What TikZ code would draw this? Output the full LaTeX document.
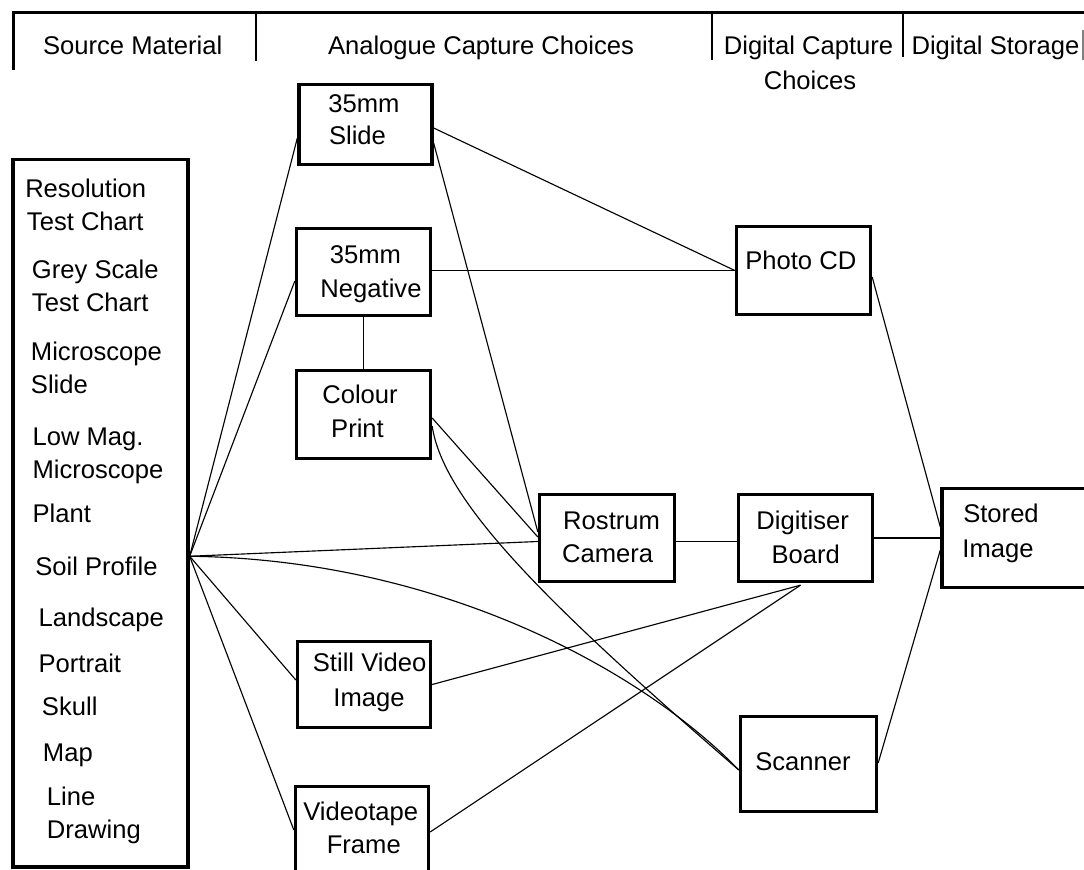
\documentclass[tikz,border=0pt]{standalone}
\usepackage{fontspec}
\setmainfont{Liberation Sans}
\usetikzlibrary{calc}
\begin{document}
\begin{tikzpicture}[x=0.75pt,y=-0.75pt,
  box/.style={draw, line width=2.5pt, rectangle, inner sep=0pt},
  lbl/.style={anchor=base, inner sep=0pt, font=\fontsize{19.2}{23}\selectfont},
  conn/.style={line width=0.85pt},
  rule/.style={line width=2pt}]
\useasboundingbox (0,0) rectangle (1084,870);
\clip (0,0) rectangle (1084,870);
\fill[white] (0,0) rectangle (1084,870);

% header rule and ticks
\draw[rule] (12,12.5) -- (1090,12.5);
\draw[rule] (13.3,11.5) -- (13.3,70);
\draw[rule] (256,11.5) -- (256,61);
\draw[rule] (712,11.5) -- (712,60);
\draw[rule] (903,11.5) -- (903,57);
\draw[line width=0.8pt, gray] (1083,30) -- (1083,60);

\node[lbl] (h1) at (132.7,55) {Source Material};
\node[lbl] (h2) at (481,55) {Analogue Capture Choices};
\node[lbl] (h3) at (808.5,55) {Digital Capture};
\node[lbl] (h3b) at (810,90) {Choices};
\node[lbl] (h4) at (995.5,55) {Digital Storage};

% boxes
\node[box, minimum width=131.25pt, minimum height=530.6pt] (src) at (100.5,513.25) {};
\node[box, minimum width=99.75pt, minimum height=60pt] (slide) at (365.5,124.5) {};
\node[box, minimum width=100.5pt, minimum height=65.25pt] (neg) at (363.5,272) {};
\node[box, minimum width=100.5pt, minimum height=66pt] (print) at (363.5,414.5) {};
\node[box, minimum width=99.75pt, minimum height=64.5pt] (still) at (364,684.5) {};
\node[box, minimum width=99.75pt, minimum height=72.75pt] (video) at (362,835) {};
\node[box, minimum width=101.25pt, minimum height=65.25pt] (rostrum) at (607,538) {};
\node[box, minimum width=100.5pt, minimum height=66pt] (photocd) at (803.5,270.5) {};
\node[box, minimum width=100.5pt, minimum height=65.25pt] (digit) at (805.5,538) {};
\node[box, minimum width=102pt, minimum height=71.25pt] (scanner) at (808.5,764) {};
\node[box, minimum width=117pt, minimum height=74.25pt] (stored) at (1020,538) {};

% source list
\node[lbl, anchor=base west] (s1) at (25,197) {Resolution};
\node[lbl, anchor=base west] (s2) at (26.7,230) {Test Chart};
\node[lbl, anchor=base west] (s3) at (31.7,278.5) {Grey Scale};
\node[lbl, anchor=base west] (s4) at (31.7,311.7) {Test Chart};
\node[lbl, anchor=base west] (s5) at (30.7,360) {Microscope};
\node[lbl, anchor=base west] (s6) at (30.7,393.3) {Slide};
\node[lbl, anchor=base west] (s7) at (32.3,445) {Low Mag.};
\node[lbl, anchor=base west] (s8) at (32.3,478.3) {Microscope};
\node[lbl, anchor=base west] (s9) at (32.3,522.7) {Plant};
\node[lbl, anchor=base west] (s10) at (35,575) {Soil Profile};
\node[lbl, anchor=base west] (s11) at (38.3,626.7) {Landscape};
\node[lbl, anchor=base west] (s12) at (38.3,672.7) {Portrait};
\node[lbl, anchor=base west] (s13) at (41.7,715) {Skull};
\node[lbl, anchor=base west] (s14) at (42.7,761.7) {Map};
\node[lbl, anchor=base west] (s15) at (46.7,805) {Line};
\node[lbl, anchor=base west] (s16) at (46.7,838.3) {Drawing};

% box labels
\node[lbl] (t1a) at (364,113) {35mm};
\node[lbl] (t1b) at (357.5,145) {Slide};
\node[lbl] (t2a) at (365.5,263) {35mm};
\node[lbl] (t2b) at (371,297) {Negative};
\node[lbl] (t3a) at (360,403) {Colour};
\node[lbl] (t3b) at (357.5,437) {Print};
\node[lbl] (t4a) at (369.6,671.7) {Still Video};
\node[lbl] (t4b) at (369,706) {Image};
\node[lbl] (t5a) at (360.7,820) {Videotape};
\node[lbl] (t5b) at (363.8,853) {Frame};
\node[lbl] (t6a) at (611.6,529) {Rostrum};
\node[lbl] (t6b) at (607.7,562.7) {Camera};
\node[lbl] (t7) at (800.8,269) {Photo CD};
\node[lbl] (t8a) at (802.6,529) {Digitiser};
\node[lbl] (t8b) at (805.8,563) {Board};
\node[lbl] (t9) at (803,770) {Scanner};
\node[lbl] (t10a) at (1001,522.7) {Stored};
\node[lbl] (t10b) at (998,557) {Image};

% connection point on source box
\coordinate (soil) at ($(src.east)+(0,43)$);

% connectors
\draw[conn] (soil) -- ($(slide.west)+(0,13.5)$);
\draw[conn] (soil) -- ($(neg.west)+(0,9)$);
\draw[conn] (soil) -- ($(rostrum.west)+(0,3.5)$);
\draw[conn] (soil) .. controls +(250,3) and +(-97,-100) .. ($(scanner.west)+(0,6)$);
\draw[conn] (soil) -- ($(still.west)+(0,-4.5)$);
\draw[conn] (soil) -- ($(video.west)+(0,-5)$);

\draw[conn] ($(slide.east)+(0,3.5)$) -- (photocd.west);
\draw[conn] ($(slide.east)+(0,18.5)$) -- ($(rostrum.west)+(0,-6)$);
\draw[conn] (neg.east |- photocd.west) -- (photocd.west);
\draw[conn] (neg.south) -- (print.north);
\draw[conn] ($(print.east)+(0,3.5)$) -- ($(rostrum.west)+(0,-1)$);
\draw[conn] ($(print.east)+(0,11.5)$) .. controls +(11,74) and +(-197,-170) .. ($(scanner.west)+(0,6)$);

\draw[conn] ($(rostrum.east)+(0,3.5)$) -- ($(digit.west)+(0,3.5)$);
\draw[conn] (digit.east) -- (stored.west);
\draw[conn] ($(photocd.east)+(0,6.5)$) -- ($(stored.west)+(0,-11)$);
\draw[conn] ($(scanner.east)+(0,-1)$) -- ($(stored.west)+(0,12)$);
\draw[conn] (still.east) -- ($(digit.south)+(-5,2)$);
\draw[conn] ($(video.east)+(0,-3)$) -- ($(digit.south)+(-5,2)$);
\end{tikzpicture}
\end{document}
